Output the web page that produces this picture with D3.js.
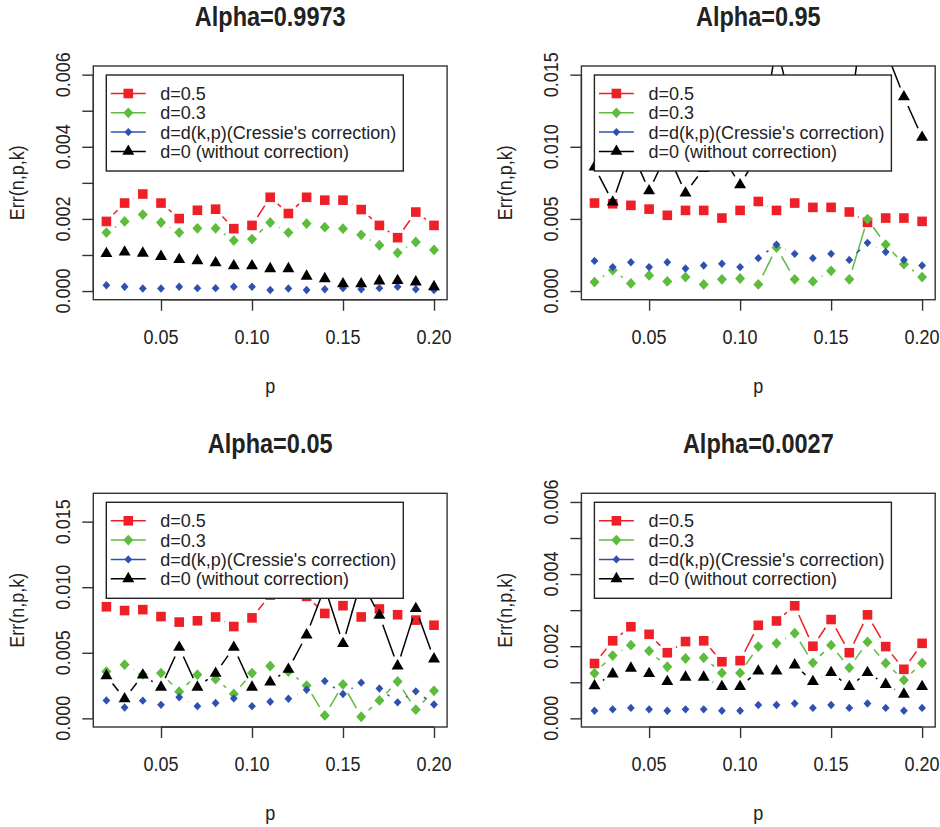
<!DOCTYPE html>
<html>
<head>
<meta charset="utf-8">
<script src="https://cdn.jsdelivr.net/npm/d3@7"></script>
<style>
  body { margin: 0; background: #fff; }
  text { font-family: "Liberation Sans", Arial, Helvetica, sans-serif; }
</style>
</head>
<body>
<svg id="chart" width="940" height="827"></svg>
<script>
// ---- data ----------------------------------------------------------------
const pValues = [0.02, 0.03, 0.04, 0.05, 0.06, 0.07, 0.08, 0.09, 0.10, 0.11,
                 0.12, 0.13, 0.14, 0.15, 0.16, 0.17, 0.18, 0.19, 0.20];

const xTicks = [0.05, 0.10, 0.15, 0.20];
const xTickLabels = ["0.05", "0.10", "0.15", "0.20"];

const panelTitles = ["Alpha=0.9973", "Alpha=0.95", "Alpha=0.05", "Alpha=0.0027"];
const yUpperLimits = [0.006, 0.015, 0.0165, 0.006];

const yTicksFine = [0, 0.001, 0.002, 0.003, 0.004, 0.005, 0.006];
const yTickLabelsFine = ["0.000", "", "0.002", "", "0.004", "", "0.006"];
const yTicksCoarse = [0, 0.005, 0.010, 0.015];
const yTickLabelsCoarse = ["0.000", "0.005", "0.010", "0.015"];

const seriesNames = ["d=0.5", "d=0.3", "d=d(k,p)(Cressie's correction)", "d=0 (without correction)"];

// Alpha = 0.9973
const errA9973_d05  = [0.00193, 0.00244, 0.00269, 0.00244, 0.00201, 0.00224, 0.00227, 0.00173, 0.00182, 0.00260,
                       0.00215, 0.00260, 0.00252, 0.00252, 0.00226, 0.00182, 0.00148, 0.00219, 0.00182];
const errA9973_d03  = [0.00162, 0.00193, 0.00212, 0.00190, 0.00162, 0.00174, 0.00174, 0.00140, 0.00144, 0.00190,
                       0.00162, 0.00187, 0.00177, 0.00173, 0.00156, 0.00127, 0.00106, 0.00136, 0.00114];
const errA9973_dkp  = [0.00016, 0.00012, 0.00007, 0.00007, 0.00012, 0.00008, 0.00008, 0.00012, 0.00012, 0.00003,
                       0.00007, 0.00003, 0.00005, 0.00008, 0.00005, 0.00008, 0.00012, 0.00005, 0.00003];
const errA9973_d0   = [0.00104, 0.00108, 0.00105, 0.00096, 0.00087, 0.00084, 0.00078, 0.00070, 0.00070, 0.00062,
                       0.00062, 0.00041, 0.00034, 0.00020, 0.00020, 0.00028, 0.00029, 0.00025, 0.00012];

// Alpha = 0.95
const errA95_d05    = [0.00610, 0.00605, 0.00594, 0.00568, 0.00525, 0.00559, 0.00559, 0.00506, 0.00559, 0.00621,
                       0.00559, 0.00610, 0.00580, 0.00580, 0.00548, 0.00476, 0.00506, 0.00506, 0.00483];
const errA95_d03    = [0.00062, 0.00145, 0.00053, 0.00108, 0.00067, 0.00097, 0.00046, 0.00081, 0.00087, 0.00046,
                       0.00301, 0.00081, 0.00067, 0.00140, 0.00081, 0.00499, 0.00322, 0.00186, 0.00097];
const errA95_dkp    = [0.00209, 0.00166, 0.00200, 0.00166, 0.00200, 0.00156, 0.00177, 0.00189, 0.00166, 0.00228,
                       0.00322, 0.00258, 0.00228, 0.00258, 0.00216, 0.00334, 0.00271, 0.00216, 0.00177];
const errA95_d0     = [0.00860, 0.00617, 0.00980, 0.00695, 0.00960, 0.00679, 0.00850, 0.00940, 0.00736, 0.00950,
                       0.01710, 0.01180, 0.01250, 0.01200, 0.01180, 0.02150, 0.01670, 0.01346, 0.01065];

// Alpha = 0.05
const errA05_d05    = [0.00851, 0.00822, 0.00829, 0.00776, 0.00734, 0.00744, 0.00773, 0.00700, 0.00766, 0.00940,
                       0.01000, 0.00930, 0.00800, 0.00859, 0.00773, 0.00834, 0.00790, 0.00749, 0.00710];
const errA05_d03    = [0.00357, 0.00409, 0.00335, 0.00345, 0.00203, 0.00333, 0.00299, 0.00186, 0.00345, 0.00399,
                       0.00357, 0.00250, 0.00022, 0.00259, 0.00012, 0.00137, 0.00281, 0.00066, 0.00210];
const errA05_dkp    = [0.00137, 0.00083, 0.00135, 0.00103, 0.00161, 0.00093, 0.00117, 0.00152, 0.00093, 0.00127,
                       0.00149, 0.00218, 0.00284, 0.00186, 0.00272, 0.00228, 0.00122, 0.00206, 0.00105];
const errA05_d0     = [0.00325, 0.00149, 0.00330, 0.00237, 0.00541, 0.00237, 0.00343, 0.00541, 0.00237, 0.00276,
                       0.00374, 0.00636, 0.01000, 0.00570, 0.01050, 0.00785, 0.00399, 0.00837, 0.00453];

// Alpha = 0.0027
const errA0027_d05  = [0.00152, 0.00215, 0.00254, 0.00233, 0.00182, 0.00213, 0.00215, 0.00157, 0.00160, 0.00258,
                       0.00270, 0.00312, 0.00200, 0.00274, 0.00182, 0.00287, 0.00199, 0.00136, 0.00208];
const errA0027_d03  = [0.00125, 0.00174, 0.00203, 0.00187, 0.00143, 0.00166, 0.00168, 0.00126, 0.00126, 0.00199,
                       0.00208, 0.00236, 0.00154, 0.00203, 0.00140, 0.00212, 0.00153, 0.00106, 0.00153];
const errA0027_dkp  = [0.00021, 0.00025, 0.00029, 0.00025, 0.00021, 0.00025, 0.00025, 0.00021, 0.00021, 0.00037,
                       0.00037, 0.00041, 0.00029, 0.00037, 0.00029, 0.00041, 0.00029, 0.00021, 0.00029];
const errA0027_d0   = [0.00090, 0.00123, 0.00139, 0.00124, 0.00102, 0.00114, 0.00114, 0.00088, 0.00088, 0.00131,
                       0.00131, 0.00148, 0.00102, 0.00127, 0.00088, 0.00127, 0.00094, 0.00067, 0.00088];

// ---- appearance ------------------------------------------------------------
const seriesColors = ["#ee1f26", "#5cbc3c", "#2f50b0", "#000000"];
const seriesShapes = ["square", "diamond", "smallDiamond", "triangle"];

const panels = [
  { title: panelTitles[0], yMax: yUpperLimits[0], ticks: yTicksFine,   tickLabels: yTickLabelsFine,
    series: [errA9973_d05, errA9973_d03, errA9973_dkp, errA9973_d0] },
  { title: panelTitles[1], yMax: yUpperLimits[1], ticks: yTicksCoarse, tickLabels: yTickLabelsCoarse,
    series: [errA95_d05, errA95_d03, errA95_dkp, errA95_d0] },
  { title: panelTitles[2], yMax: yUpperLimits[2], ticks: yTicksCoarse, tickLabels: yTickLabelsCoarse,
    series: [errA05_d05, errA05_d03, errA05_dkp, errA05_d0] },
  { title: panelTitles[3], yMax: yUpperLimits[3], ticks: yTicksFine,   tickLabels: yTickLabelsFine,
    series: [errA0027_d05, errA0027_d03, errA0027_dkp, errA0027_d0] }
];

const colLeft = [93.3, 581.4];
const rowTop = [66, 493.3];
const boxW = 353.8;
const boxH = 233.7;
const pointGap = 10;         // line gap around each point (type "b")
const textColor = "#222";
const glyphStretch = 1.17;   // tall, narrow lettering for titles and axes

const svg = d3.select("#chart");

// horizontal text, optionally with stretched glyphs
function hText(g, x, y, str, size, opts = {}) {
  const stretch = opts.stretch === undefined ? glyphStretch : opts.stretch;
  return g.append("text")
    .attr("transform", `translate(${x},${y}) scale(1,${stretch})`)
    .attr("text-anchor", opts.anchor || "middle")
    .attr("font-size", size)
    .attr("font-weight", opts.bold ? "bold" : null)
    .attr("fill", textColor)
    .text(str);
}
// vertical (reading upwards) text with stretched glyphs
function vText(g, x, y, str, size) {
  return g.append("text")
    .attr("transform", `translate(${x},${y}) scale(${glyphStretch},1) rotate(-90)`)
    .attr("text-anchor", "middle")
    .attr("font-size", size)
    .attr("fill", textColor)
    .text(str);
}

function drawMarker(g, shape, x, y, color) {
  if (shape === "square") {
    g.append("rect").attr("x", x - 4.8).attr("y", y - 4.8)
      .attr("width", 9.6).attr("height", 9.6).attr("fill", color);
  } else if (shape === "diamond") {
    g.append("path").attr("d", `M${x},${y - 5.4}L${x + 5},${y}L${x},${y + 5.4}L${x - 5},${y}Z`)
      .attr("fill", color);
  } else if (shape === "smallDiamond") {
    g.append("path").attr("d", `M${x},${y - 4.2}L${x + 3.9},${y}L${x},${y + 4.2}L${x - 3.9},${y}Z`)
      .attr("fill", color);
  } else {
    g.append("path").attr("d", d3.symbol(d3.symbolTriangle, 62)()).attr("transform", `translate(${x},${y})`)
      .attr("fill", color);
  }
}

panels.forEach((panel, i) => {
  const left = colLeft[i % 2];
  const top = rowTop[Math.floor(i / 2)];
  const right = left + boxW;
  const bottom = top + boxH;

  const xMin = d3.min(pValues), xMax = d3.max(pValues);
  const xPad = 0.04 * (xMax - xMin);
  const x = d3.scaleLinear().domain([xMin - xPad, xMax + xPad]).range([left, right]);
  const yPad = 0.04 * panel.yMax;
  const y = d3.scaleLinear().domain([-yPad, panel.yMax + yPad]).range([bottom, top]);

  const g = svg.append("g");
  const clipId = "clip" + i;
  svg.append("clipPath").attr("id", clipId)
    .append("rect").attr("x", left).attr("y", top).attr("width", boxW).attr("height", boxH);

  // title
  hText(g, (left + right) / 2, top - 40, panel.title, 23.5, { bold: true });

  // x axis
  const xAxis = d3.axisBottom(x).tickValues(xTicks).tickSize(11).tickFormat("");
  const xg = g.append("g").attr("transform", `translate(0,${bottom})`).call(xAxis);
  xg.select(".domain").attr("d", `M${x(xTicks[0])},0H${x(xTicks[xTicks.length - 1])}`)
    .attr("stroke", "#333").attr("stroke-width", 1.4);
  xg.selectAll(".tick line").attr("stroke", "#333").attr("stroke-width", 1.4);
  xTicks.forEach((t, k) => hText(g, x(t), bottom + 44, xTickLabels[k], 18));

  // y axis
  const yAxis = d3.axisLeft(y).tickValues(panel.ticks).tickSize(11).tickFormat("");
  const yg = g.append("g").attr("transform", `translate(${left},0)`).call(yAxis);
  yg.select(".domain").attr("d", `M0,${y(panel.ticks[0])}V${y(panel.ticks[panel.ticks.length - 1])}`)
    .attr("stroke", "#333").attr("stroke-width", 1.4);
  yg.selectAll(".tick line").attr("stroke", "#333").attr("stroke-width", 1.4);
  panel.ticks.forEach((t, k) => {
    if (panel.tickLabels[k]) vText(g, left - 23, y(t), panel.tickLabels[k], 18);
  });

  // axis titles
  hText(g, (left + right) / 2, bottom + 93, "p", 18);
  vText(g, left - 69, (top + bottom) / 2, "Err(n,p,k)", 18);

  // series: lines with gaps around points, then markers
  const plot = g.append("g").attr("clip-path", `url(#${clipId})`);
  panel.series.forEach((vals, s) => {
    const pts = vals.map((v, k) => [x(pValues[k]), y(v)]);
    for (let k = 0; k < pts.length - 1; k++) {
      const [x0, y0] = pts[k], [x1, y1] = pts[k + 1];
      const len = Math.hypot(x1 - x0, y1 - y0);
      if (len <= 2 * pointGap) continue;
      const ux = (x1 - x0) / len, uy = (y1 - y0) / len;
      plot.append("line")
        .attr("x1", x0 + ux * pointGap).attr("y1", y0 + uy * pointGap)
        .attr("x2", x1 - ux * pointGap).attr("y2", y1 - uy * pointGap)
        .attr("stroke", seriesColors[s]).attr("stroke-width", 1.5);
    }
    pts.forEach(([px, py]) => drawMarker(plot, seriesShapes[s], px, py, seriesColors[s]));
  });

  // plot box
  g.append("rect").attr("x", left).attr("y", top).attr("width", boxW).attr("height", boxH)
    .attr("fill", "none").attr("stroke", "#333").attr("stroke-width", 1.4);

  // legend
  const lx = left + 13, ly = top + 9;
  const lg = g.append("g");
  lg.append("rect").attr("x", lx).attr("y", ly).attr("width", 297).attr("height", 96)
    .attr("fill", "#fff").attr("stroke", "#222").attr("stroke-width", 1.4);
  seriesNames.forEach((name, s) => {
    const cy = ly + 18.5 + s * 19.3;
    lg.append("line").attr("x1", lx + 4.5).attr("x2", lx + 39.5).attr("y1", cy).attr("y2", cy)
      .attr("stroke", seriesColors[s]).attr("stroke-width", 1.5);
    drawMarker(lg, seriesShapes[s], lx + 22, cy, seriesColors[s]);
    hText(lg, lx + 54, cy + 6.5, name, 18, { anchor: "start", stretch: 1 });
  });
});
</script>
</body>
</html>
